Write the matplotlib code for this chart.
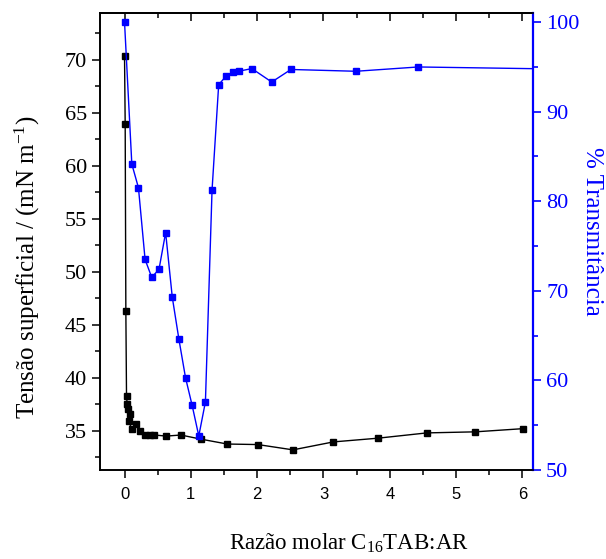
import matplotlib
matplotlib.use('Agg')
import matplotlib.pyplot as plt
from matplotlib.ticker import MultipleLocator

plt.rcParams.update({
    'font.family': ['Liberation Serif', 'DejaVu Serif'],
    'mathtext.default': 'regular',
    'axes.linewidth': 1.2,
})

# tensao superficial (preto)
razao_ts = [0.0, 0.01, 0.02, 0.03, 0.04, 0.05, 0.08, 0.06, 0.11, 0.17, 0.23, 0.31,
            0.38, 0.45, 0.63, 0.85, 1.16, 1.55, 2.01, 2.54, 3.15, 3.82, 4.56, 5.29, 6.01]
tensao = [70.3, 63.9, 46.3, 38.3, 37.5, 37.1, 36.6, 35.9, 35.2, 35.6, 35.0, 34.6,
          34.6, 34.6, 34.5, 34.6, 34.2, 33.75, 33.7, 33.2, 33.95, 34.3, 34.8, 34.9, 35.2]

# transmitancia (azul)
razao_tr = [0.0, 0.11, 0.21, 0.31, 0.41, 0.52, 0.62, 0.72, 0.82, 0.92, 1.02, 1.12,
            1.22, 1.32, 1.42, 1.53, 1.63, 1.72, 1.92, 2.22, 2.51, 3.49, 4.43, 6.25]
transm = [100.0, 84.15, 81.5, 73.5, 71.5, 72.4, 76.5, 69.3, 64.6, 60.3, 57.2, 53.8,
          57.6, 81.25, 93.0, 93.95, 94.4, 94.5, 94.8, 93.3, 94.7, 94.5, 94.98, 94.78]

BLUE = '#0000ff'

fig = plt.figure(figsize=(6.06, 5.59), dpi=100)
ax = fig.add_axes([0.165, 0.1592, 0.7145, 0.8175])
ax2 = ax.twinx()

ax.plot(razao_ts, tensao, '-s', color='black', lw=1.0, ms=4, mec='black', zorder=3)
ax2.plot(razao_tr, transm, '-s', color=BLUE, lw=1.0, ms=4, mec=BLUE, clip_on=True)

ax.set_xlim(-0.37, 6.16)
ax.set_ylim(31.3, 74.4)
ax2.set_ylim(50, 101)

ax.xaxis.set_major_locator(MultipleLocator(1))
ax.xaxis.set_minor_locator(MultipleLocator(0.5))
ax.yaxis.set_major_locator(MultipleLocator(5))
ax.yaxis.set_minor_locator(MultipleLocator(2.5))
ax2.yaxis.set_major_locator(MultipleLocator(10))
ax2.yaxis.set_minor_locator(MultipleLocator(5))

ax.tick_params(axis='x', which='both', direction='out', top=False, width=1.1)
ax.tick_params(axis='x', which='major', length=6, labelsize=12, pad=6)
ax.tick_params(axis='x', which='minor', length=3.5)
for t in ax.get_xticklabels():
    t.set_family(['Liberation Sans', 'DejaVu Sans'])
ax.tick_params(axis='y', which='both', direction='out', width=1.1, right=False)
ax.tick_params(axis='y', which='major', length=6, labelsize=16)
ax.tick_params(axis='y', which='minor', length=3.5)

# ticks internos no topo
axt = ax.secondary_xaxis('top')
axt.xaxis.set_major_locator(MultipleLocator(1))
axt.xaxis.set_minor_locator(MultipleLocator(0.5))
axt.tick_params(axis='x', which='both', direction='in', labeltop=False, width=1.1)
axt.tick_params(axis='x', which='major', length=6)
axt.tick_params(axis='x', which='minor', length=3.5)

ax2.spines['right'].set_color(BLUE)
ax2.spines['right'].set_linewidth(1.6)
ax2.tick_params(axis='y', which='both', direction='out', colors=BLUE, width=1.2)
ax2.tick_params(axis='y', which='major', length=6, labelsize=16)
ax2.tick_params(axis='y', which='minor', length=3.5)

ax.set_xlabel('Razão molar C$_{16}$TAB:AR', fontsize=16.5)
ax.xaxis.set_label_coords(0.575, -0.135)
ax.set_ylabel('Tensão superficial / (mN m$^{-1}$)', fontsize=18)
ax.yaxis.set_label_coords(-0.134, 0.444)
ax2.set_ylabel('% Transmitância', fontsize=18, color=BLUE, rotation=270, va='bottom')
ax2.yaxis.set_label_coords(1.112, 0.523)

fig.savefig('out.png', dpi=100)
